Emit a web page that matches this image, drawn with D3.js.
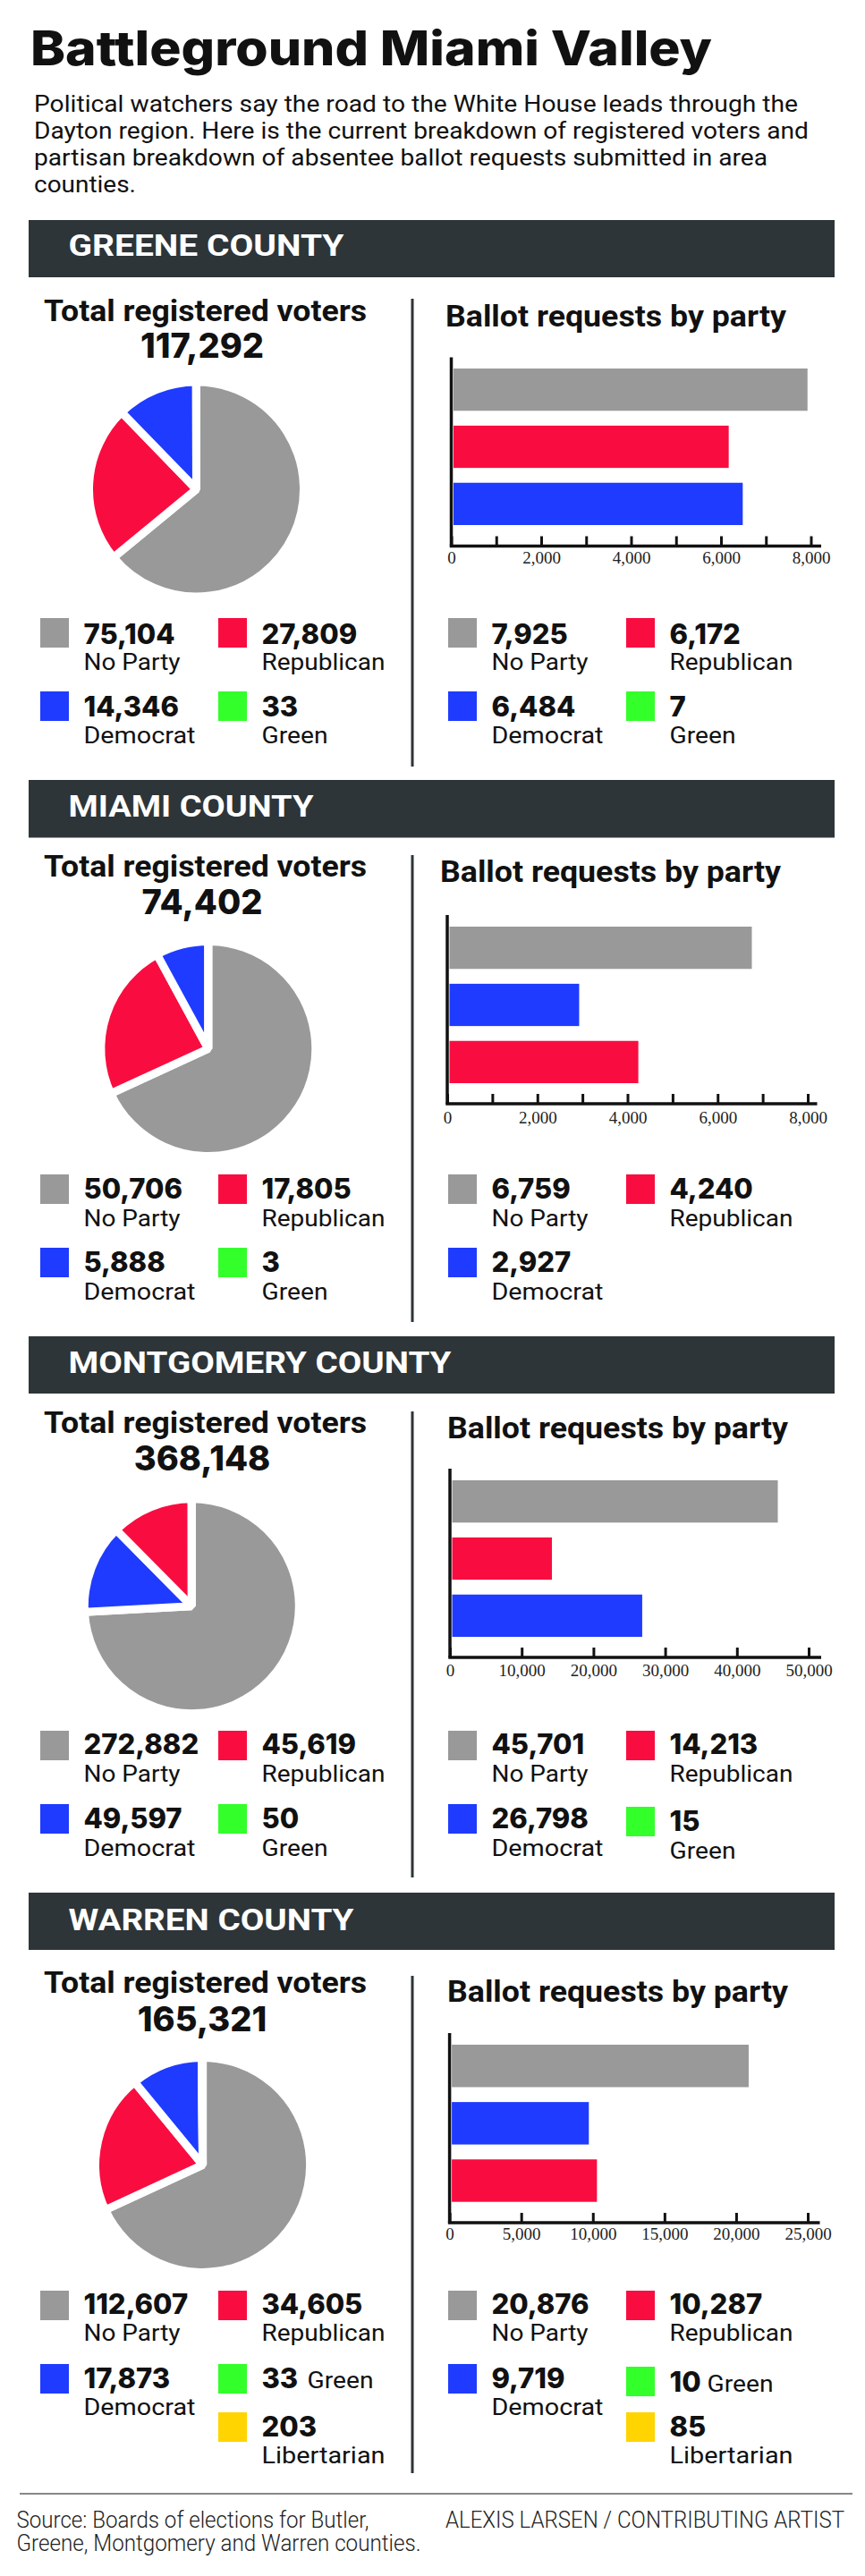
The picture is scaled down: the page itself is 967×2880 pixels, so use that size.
<!DOCTYPE html>
<html>
<head>
<meta charset="utf-8">
<script src="https://cdn.jsdelivr.net/npm/d3@7"></script>
<style>
body { margin: 0; background: #fff; }
text { font-family: Roboto, "Open Sans", sans-serif; fill: #111; }
.heavy { font-family: Inter, Roboto, sans-serif; }
.tick text { font-family: "Liberation Serif", serif; font-size: 19px; fill: #222; }
</style>
</head>
<body>
<script>
var w = 967, h = 2880;

// values, same party order everywhere
var parties = ["No Party", "Republican", "Democrat", "Green", "Libertarian"];
var partyColors = ["#999999", "#f90d40", "#1f3bff", "#33ff2a", "#ffd400"];
var partyWidths = [108, 138, 125, 74, 138];

var greeneVoters = [75104, 27809, 14346, 33];
var miamiVoters = [50706, 17805, 5888, 3];
var montgomeryVoters = [272882, 45619, 49597, 50];
var warrenVoters = [112607, 34605, 17873, 33, 203];

var greeneBallots = [7925, 6172, 6484, 7];
var miamiBallots = [6759, 4240, 2927];
var montgomeryBallots = [45701, 14213, 26798, 15];
var warrenBallots = [20876, 10287, 9719, 10, 85];

var greeneTotal = 117292, miamiTotal = 74402, montgomeryTotal = 368148, warrenTotal = 165321;

var smallTicks = [0, 1000, 2000, 3000, 4000, 5000, 6000, 7000, 8000];
var bigTicks = [0, 10000, 20000, 30000, 40000, 50000];
var warrenTicks = [0, 5000, 10000, 15000, 20000, 25000];

var intro = [
  "Political watchers say the road to the White House leads through the",
  "Dayton region. Here is the current breakdown of registered voters and",
  "partisan breakdown of absentee ballot requests submitted in area",
  "counties."
];

// layout per county
var counties = [
  { name: "GREENE COUNTY", voters: greeneVoters, ballots: greeneBallots, total: greeneTotal,
    ticks: smallTicks, labelEvery: 2000, pieOrder: [0, 1, 2, 3], barOrder: [0, 1, 2],
    bar: [246, 310, 286, 308], div: [334, 857], left: [359, 400], right: [498, 365],
    pie: [219.5, 547], axis: [504.5, 906.5, 918, 399.5, 610.5, 630], bars: [412, 587],
    lslots: [[691,719.5,749],[691,719.5,749],[773,801,830.5],[773,801,830.5]],
    rslots: [[691,719.5,749],[691,719.5,749],[773,801,830.5],[773,801,830.5]] },
  { name: "MIAMI COUNTY", voters: miamiVoters, ballots: miamiBallots, total: miamiTotal,
    ticks: smallTicks, labelEvery: 2000, pieOrder: [0, 1, 2, 3], barOrder: [0, 2, 1],
    bar: [872, 936.5, 913, 274], div: [956, 1478], left: [980, 1022], right: [492, 986],
    pie: [232.8, 1172.5], axis: [500, 903, 913.5, 1023, 1234, 1256], bars: [1036, 1211],
    lslots: [[1313,1340,1371],[1313,1340,1371],[1395,1422,1453],[1395,1422,1453]],
    rslots: [[1313,1340,1371],[1313,1340,1371],[1395,1422,1453]] },
  { name: "MONTGOMERY COUNTY", voters: montgomeryVoters, ballots: montgomeryBallots, total: montgomeryTotal,
    ticks: bigTicks, labelEvery: 10000, pieOrder: [0, 2, 1, 3], barOrder: [0, 1, 2],
    bar: [1494, 1558, 1535, 428], div: [1578, 2099], left: [1602, 1644], right: [500, 1607.5],
    pie: [214.3, 1795.7], axis: [503, 904, 918, 1642, 1853, 1874], bars: [1655, 1830],
    lslots: [[1935,1961,1992],[1935,1961,1992],[2017,2044,2074.5],[2017,2044,2074.5]],
    rslots: [[1935,1961,1992],[1935,1961,1992],[2017,2044,2074.5],[2020,2047,2078]] },
  { name: "WARREN COUNTY", voters: warrenVoters, ballots: warrenBallots, total: warrenTotal,
    ticks: warrenTicks, labelEvery: 5000, pieOrder: [0, 1, 2, 3, 4], barOrder: [0, 2, 1],
    bar: [2116, 2180, 2157.6, 319], div: [2209, 2765], left: [2228, 2270.6], right: [500, 2237.7],
    pie: [226.6, 2420.4], axis: [502.6, 903, 916.5, 2273, 2485, 2504.4], bars: [2286, 2461.7],
    lslots: [[2561,2587,2617],[2561,2587,2617],[2643,2670,2700],[2643,2670,2670,343.5],[2697,2724,2754]],
    rslots: [[2561,2587,2617],[2561,2587,2617],[2643,2670,2700],[2646,2674,2674,790.6],[2697,2724,2754]] }
];

var dark = "#2d3538";
var comma = d3.format(",");

var svg = d3.select("body").append("svg")
    .attr("width", w)
    .attr("height", h)
    .style("display", "block");

svg.append("rect").attr("width", w).attr("height", h).attr("fill", "#fff");

// plain text helper, fit = stretch to a measured width
function label(x, y, str, size, weight, fit) {
  var t = svg.append("text")
      .attr("x", x).attr("y", y)
      .attr("font-size", size).attr("font-weight", weight)
      .text(str);
  if (fit) t.attr("textLength", fit).attr("lengthAdjust", "spacingAndGlyphs");
  return t;
}

label(34, 73, "Battleground Miami Valley", 54, 800, 762).attr("class", "heavy");

var introWidths = [854, 866, 820, 114];
intro.forEach(function(line, i) {
  label(38, 125 + i * 30, line, 25, 400, introWidths[i]);
});

function legend(x0, values, slots) {
  var colSwatch = [x0, x0 + 199];
  // party 0 and 2 sit in the first column, the others in the second
  var cols = [0, 1, 0, 1, 1];
  values.forEach(function(v, i) {
    var s = slots[i], sx = colSwatch[cols[i]];
    svg.append("rect").attr("x", sx).attr("y", s[0]).attr("width", 32).attr("height", 33)
        .attr("fill", partyColors[i]);
    label(sx + 48.5, s[1], comma(v), 31, 800).attr("class", "heavy");
    label(s[3] || sx + 48.5, s[2], parties[i], 26, 400, partyWidths[i]);
  });
}

counties.forEach(function(c) {
  // header
  svg.append("rect").attr("x", 32).attr("y", c.bar[0]).attr("width", 901)
      .attr("height", c.bar[1] - c.bar[0]).attr("fill", dark);
  label(76.5, c.bar[2], c.name, 34, 700, c.bar[3]).style("fill", "#fff");

  // divider
  svg.append("line").attr("x1", 461).attr("x2", 461).attr("y1", c.div[0]).attr("y2", c.div[1])
      .attr("stroke", dark).attr("stroke-width", 3);

  // left titles
  label(49, c.left[0], "Total registered voters", 33, 700, 361);
  label(226, c.left[1], comma(c.total), 38, 800).attr("class", "heavy").attr("text-anchor", "middle");
  label(c.right[0], c.right[1], "Ballot requests by party", 33, 700, 381);

  // pie, white stroke makes the gaps between slices
  var pie = d3.pie().sort(null).value(function(i) { return c.voters[i]; });
  var arc = d3.arc().innerRadius(0).outerRadius(120);
  svg.append("g").attr("transform", "translate(" + c.pie[0] + "," + c.pie[1] + ")")
    .selectAll("path")
    .data(pie(c.pieOrder))
    .join("path")
      .attr("d", arc)
      .attr("fill", function(d) { return partyColors[d.data]; })
      .attr("stroke", "#fff")
      .attr("stroke-width", 9)
      .attr("stroke-linejoin", "bevel");

  // bars
  var a = c.axis;
  var x = d3.scaleLinear().domain([0, d3.max(c.ticks)]).range([a[0], a[1]]);
  var y = d3.scaleBand().domain(c.barOrder).range(c.bars).paddingInner(0.26);

  svg.append("g").selectAll("rect")
    .data(c.barOrder)
    .join("rect")
      .attr("x", x(0) + 2.5)
      .attr("y", function(i) { return y(i); })
      .attr("width", function(i) { return x(c.ballots[i]) - x(0) - 2.5; })
      .attr("height", y.bandwidth())
      .attr("fill", function(i) { return partyColors[i]; });

  var axis = d3.axisBottom(x)
      .tickValues(c.ticks)
      .tickSize(-11)
      .tickPadding(9)
      .tickFormat(function(d) { return d % c.labelEvery === 0 ? comma(d) : ""; });

  var gx = svg.append("g").attr("transform", "translate(0," + a[4] + ")").call(axis);
  gx.select(".domain").remove();
  gx.selectAll(".tick line").attr("stroke", "#111").attr("stroke-width", 3);
  gx.selectAll(".tick text").attr("y", a[5] - a[4]).attr("dy", 0);

  svg.append("line").attr("x1", a[0] - 1.75).attr("x2", a[2]).attr("y1", a[4]).attr("y2", a[4])
      .attr("stroke", "#111").attr("stroke-width", 3.5);
  svg.append("line").attr("x1", a[0]).attr("x2", a[0]).attr("y1", a[3]).attr("y2", a[4])
      .attr("stroke", "#111").attr("stroke-width", 3.5);

  legend(45, c.voters, c.lslots);
  legend(501, c.ballots, c.rslots);
});

// footer
svg.append("line").attr("x1", 22).attr("x2", 953).attr("y1", 2788).attr("y2", 2788)
    .attr("stroke", "#111").attr("stroke-width", 1);
label(18.5, 2826, "Source: Boards of elections for Butler,", 25, 300, 394).style("fill", "#222");
label(18.5, 2852, "Greene, Montgomery and Warren counties.", 25, 300, 452).style("fill", "#222");
label(498, 2826, "ALEXIS LARSEN / CONTRIBUTING ARTIST", 25, 300, 446).style("fill", "#222");
</script>
</body>
</html>
